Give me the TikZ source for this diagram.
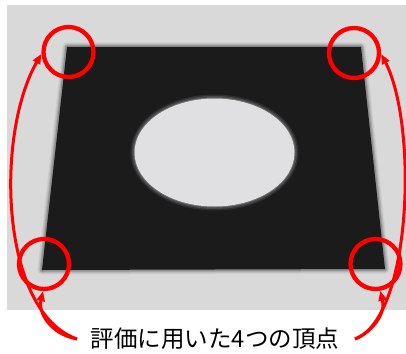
\documentclass[tikz,border=0pt]{standalone}
\usepackage{fontspec}
\newfontfamily\jpfont{Noto Sans CJK JP}
\usetikzlibrary{arrows.meta}
\definecolor{photogray}{HTML}{D9D9D9}
\definecolor{plate}{HTML}{1B1B1B}
\definecolor{holecol}{HTML}{E0E0E2}
\tikzset{
  mark circle/.style={draw=red, line width=4.3pt, circle, minimum size=50pt, inner sep=0pt},
  pointer/.style={draw=red, line width=3pt, -{Triangle[length=10pt,width=8pt]}},
  caption/.style={font=\jpfont\fontsize{23.5}{26}\selectfont, text=black, inner sep=2pt}
}
\begin{document}
\begin{tikzpicture}[x=1pt,y=-1pt]
\useasboundingbox (0,0) rectangle (406,353);
\fill[white] (0,0) rectangle (406,353);
\fill[photogray] (7,5) rectangle (406,310);
% plate with soft edges
\foreach \w/\o in {9/0.06,7/0.08,5/0.12,3/0.2}{
  \draw[plate, line width=\w pt, opacity=\o, line join=round] (67,47) -- (361,47) -- (385,269) -- (42,270) -- cycle;
}
\fill[plate] (67,47) -- (361,47) -- (385,269) -- (42,270) -- cycle;
% hole with soft edges
\foreach \w/\o in {8/0.10,5/0.15,2/0.25}{
  \draw[holecol, line width=\w pt, opacity=\o] (214.5,152.5) ellipse [x radius=80, y radius=54];
}
\fill[holecol] (214.5,152.5) ellipse [x radius=80, y radius=54];
% marking circles
\node[mark circle] (tl) at (68.5,52) {};
\node[mark circle] (tr) at (354,53) {};
\node[mark circle] (bl) at (44,264) {};
\node[mark circle] (br) at (375.5,264) {};
% caption
\node[caption] (cap) at (215,339) {評価に用いた4つの頂点};
\coordinate (ls) at (77,339);
\coordinate (rs) at (355,339);
% arrows
\draw[pointer] (ls) .. controls (0,312) and (-5,135) .. (tl.184);
\draw[pointer] (ls) .. controls (50,334) and (38,312) .. (bl.268);
\draw[pointer] (rs) .. controls (412,318) and (418,125) .. (tr.-2);
\draw[pointer] (rs) .. controls (372,332) and (386,314) .. (br.280);
\end{tikzpicture}
\end{document}
